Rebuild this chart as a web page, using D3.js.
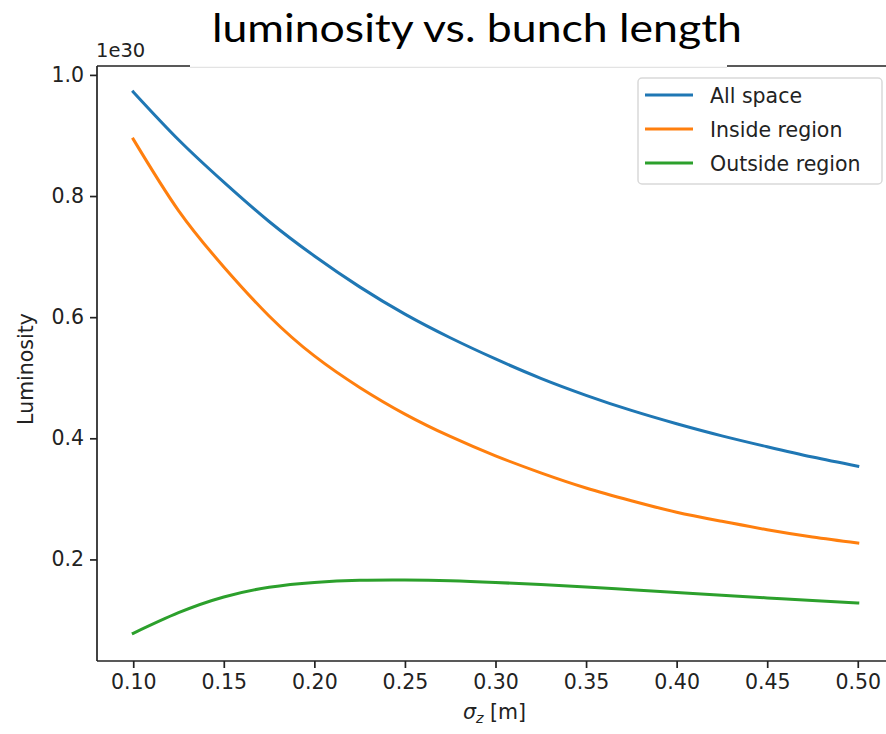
<!DOCTYPE html>
<html>
<head>
<meta charset="utf-8">
<script src="https://cdn.jsdelivr.net/npm/d3@7"></script>
<style>
  html, body { margin: 0; padding: 0; background: #fff; }
  svg { display: block; }
</style>
</head>
<body>
<div id="chart"></div>
<script>
// bunch length sigma_z [m]
const sigmaZ = [0.100, 0.125, 0.150, 0.175, 0.200, 0.225, 0.250, 0.275, 0.300,
                0.325, 0.350, 0.375, 0.400, 0.425, 0.450, 0.475, 0.500];
// luminosity in units of 1e30
const allSpace = [0.972, 0.893, 0.823, 0.758, 0.701, 0.650, 0.605, 0.566, 0.531,
                  0.499, 0.471, 0.446, 0.424, 0.404, 0.386, 0.369, 0.354];
const insideRegion = [0.894, 0.776, 0.683, 0.602, 0.536, 0.484, 0.440, 0.403, 0.371,
                      0.343, 0.318, 0.297, 0.278, 0.263, 0.249, 0.237, 0.227];
const outsideRegion = [0.078, 0.112, 0.138, 0.154, 0.162, 0.1655, 0.166, 0.1648, 0.162,
                       0.1585, 0.1545, 0.150, 0.1455, 0.141, 0.1365, 0.132, 0.128];
const seriesNames = ["All space", "Inside region", "Outside region"];
const seriesColors = ["#1f77b4", "#ff7f0e", "#2ca02c"];
const xTicks = [0.10, 0.15, 0.20, 0.25, 0.30, 0.35, 0.40, 0.45, 0.50];
const yTicks = [0.2, 0.4, 0.6, 0.8, 1.0];

const W = 886, H = 734;
const svg = d3.select("#chart").append("svg").attr("width", W).attr("height", H);

const pLeft = 97, pRight = 894, pTop = 66, pBottom = 661;
const x = d3.scaleLinear().domain([0.08, 0.52]).range([pLeft, pRight]);
const y = d3.scaleLinear().domain([0.0323, 1.0147]).range([pBottom, pTop]);

const font = "DejaVu Sans, sans-serif";
const fs = 20.5;

// lines
const series = [allSpace, insideRegion, outsideRegion];
const line = d3.line().x((d, i) => x(sigmaZ[i])).y(d => y(d)).curve(d3.curveNatural);
svg.append("clipPath").attr("id", "plotclip")
  .append("rect").attr("x", pLeft).attr("y", pTop).attr("width", pRight - pLeft).attr("height", pBottom - pTop);
const plot = svg.append("g").attr("clip-path", "url(#plotclip)");
series.forEach((s, k) => {
  plot.append("path").datum(s).attr("d", line)
    .attr("fill", "none").attr("stroke", seriesColors[k])
    .attr("stroke-width", 3).attr("stroke-linecap", "square");
});

// axes
const xAxis = d3.axisBottom(x).tickValues(xTicks).tickFormat(d3.format(".2f"))
  .tickSize(7).tickPadding(6);
const gx = svg.append("g").attr("transform", `translate(0,${pBottom})`).call(xAxis);
const yAxis = d3.axisLeft(y).tickValues(yTicks).tickFormat(d3.format(".1f"))
  .tickSize(7).tickPadding(6);
const gy = svg.append("g").attr("transform", `translate(${pLeft},0)`).call(yAxis);
[gx, gy].forEach(g => {
  g.select(".domain").attr("stroke", "#222").attr("stroke-width", 1.7);
  g.selectAll(".tick line").attr("stroke", "#222").attr("stroke-width", 1.7);
  g.selectAll(".tick text").attr("font-family", font).attr("font-size", fs).attr("fill", "#222");
});
gx.select(".domain").attr("d", `M${pLeft},0H${pRight}`);
gy.select(".domain").attr("d", `M0,${pTop}V${pBottom}`);

// top spine, interrupted behind the title
svg.append("line").attr("x1", pLeft).attr("x2", 190).attr("y1", pTop).attr("y2", pTop)
  .attr("stroke", "#222").attr("stroke-width", 1.7);
svg.append("line").attr("x1", 727).attr("x2", W).attr("y1", pTop).attr("y2", pTop)
  .attr("stroke", "#222").attr("stroke-width", 1.7);
svg.append("line").attr("x1", 190).attr("x2", 727).attr("y1", pTop + 1.3).attr("y2", pTop + 1.3)
  .attr("stroke", "#ddd").attr("stroke-width", 1);

// offset text
svg.append("text").attr("x", pLeft - 1).attr("y", 57).text("1e30")
  .attr("font-family", font).attr("font-size", fs - 1).attr("fill", "#222");

// axis labels
const xl = svg.append("text").attr("x", (pLeft + pRight) / 2 - 1).attr("y", 719)
  .attr("text-anchor", "middle").attr("font-family", font).attr("font-size", fs).attr("fill", "#222");
xl.append("tspan").text("σ").attr("font-style", "italic");
xl.append("tspan").text("z").attr("font-style", "italic").attr("font-size", fs * 0.7).attr("dy", 4);
xl.append("tspan").text(" [m]").attr("dy", -4);

svg.append("text").attr("transform", `translate(33,369) rotate(-90)`)
  .attr("text-anchor", "middle").attr("font-family", font).attr("font-size", fs).attr("fill", "#222")
  .text("Luminosity");

// title
svg.append("text").attr("x", 477).attr("y", 42).attr("text-anchor", "middle")
  .attr("font-family", "Lato, 'Open Sans', sans-serif").attr("font-size", 38).attr("fill", "#000")
  .attr("textLength", 530).attr("lengthAdjust", "spacingAndGlyphs")
  .text("luminosity vs. bunch length");

// legend
const lg = svg.append("g");
lg.append("rect").attr("x", 638).attr("y", 78).attr("width", 244).attr("height", 106)
  .attr("rx", 4).attr("fill", "#fff").attr("fill-opacity", 0.8)
  .attr("stroke", "#d9d9d9").attr("stroke-width", 1.5);
seriesNames.forEach((name, k) => {
  const yy = 95 + k * 34;
  lg.append("line").attr("x1", 645).attr("x2", 693).attr("y1", yy).attr("y2", yy)
    .attr("stroke", seriesColors[k]).attr("stroke-width", 3);
  lg.append("text").attr("x", 710).attr("y", yy + 7.5).text(name)
    .attr("font-family", font).attr("font-size", fs).attr("fill", "#222");
});
</script>
</body>
</html>
